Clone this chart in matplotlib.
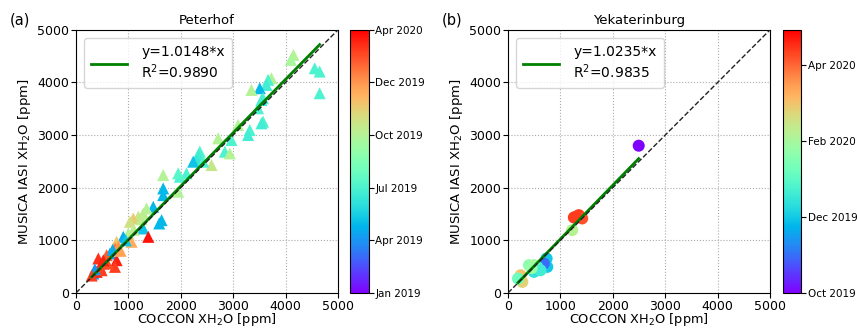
import numpy as np
import matplotlib.pyplot as plt
from matplotlib.colors import Normalize

# Peterhof: COCCON vs MUSICA IASI XH2O, colour = position on the date axis
pet_x = [4150, 4100, 4555, 4650, 4650, 3730, 3666, 3634, 3507, 3348, 3570, 3539,
         3475, 3570, 3539, 3316, 3284, 3094, 2967, 2713, 2840, 2935, 2586, 2363,
         2332, 2300, 2236, 2427, 2109, 1982, 1950, 1950, 1664, 1664, 1664, 1633,
         1588, 1474, 1347, 1283, 1188, 1093, 1029, 1283, 1379, 997, 902, 1061,
         775, 743, 807, 648, 775, 743, 521, 426, 584, 330, 394, 457, 489, 360,
         600, 700, 950, 1100, 1250, 850, 520, 300]
pet_y = [4524, 4430, 4270, 4207, 3795, 4080, 4050, 3953, 3890, 3858, 3700, 3667,
         3509, 3255, 3223, 3096, 3001, 3192, 2906, 2938, 2684, 2652, 2430, 2684,
         2620, 2525, 2494, 2494, 2272, 2208, 2272, 1923, 2240, 1986, 1859, 1383,
         1320, 1637, 1605, 1510, 1447, 1415, 1352, 1225, 1066, 1130, 1066, 971,
         971, 844, 876, 749, 622, 495, 558, 654, 717, 368, 400, 495, 431, 450,
         560, 820, 1000, 1200, 1400, 800, 620, 330]
pet_c = [3.0, 2.9, 2.0, 2.0, 2.0, 3.0, 2.0, 1.9, 1.3, 3.0, 2.0, 1.9,
         2.0, 2.0, 1.9, 2.0, 1.9, 3.0, 2.0, 3.0, 2.0, 3.0, 3.2, 2.0,
         1.9, 1.8, 1.4, 2.0, 2.0, 2.0, 2.1, 3.0, 3.0, 1.3, 1.3, 1.3,
         1.3, 1.3, 3.0, 3.1, 3.2, 3.5, 3.3, 1.4, 4.9, 3.0, 1.2, 3.8,
         3.6, 4.2, 4.0, 1.1, 4.8, 4.6, 4.7, 4.7, 4.4, 1.0, 4.8, 4.7, 4.6, 1.0,
         4.5, 1.2, 1.4, 3.1, 3.1, 3.9, 4.8, 4.6]

# Yekaterinburg
yek_x = [2494, 1256, 1352, 1415, 1300, 1225, 736, 749, 685, 495, 558, 400, 495,
         241, 273, 190, 620, 450]
yek_y = [2798, 1434, 1478, 1415, 1450, 1193, 654, 495, 558, 400, 495, 527, 527,
         336, 209, 273, 430, 470]
yek_c = [0.0, 3.2, 3.2, 3.1, 3.2, 2.1, 1.0, 1.0, 0.5, 1.2, 1.3, 1.8, 2.0,
         2.5, 2.4, 1.6, 1.3, 1.9]

pet_ticks = [0, 1, 2, 3, 4, 5]
pet_labels = ['Jan 2019', 'Apr 2019', 'Jul 2019', 'Oct 2019', 'Dec 2019', 'Apr 2020']
yek_ticks = [0, 1, 2, 3]
yek_labels = ['Oct 2019', 'Dec 2019', 'Feb 2020', 'Apr 2020']

panels = [
    ('Peterhof', '(a)', pet_x, pet_y, pet_c, '^', 1.0148, 0.9890, 5.0, pet_ticks, pet_labels),
    ('Yekaterinburg', '(b)', yek_x, yek_y, yek_c, 'o', 1.0235, 0.9835, 3.46, yek_ticks, yek_labels),
]

fig = plt.figure(figsize=(8.57, 3.28), dpi=100)
ax_pos = [[0.0887, 0.107, 0.3057, 0.802], [0.5928, 0.107, 0.3057, 0.802]]
cb_pos = [[0.4085, 0.107, 0.0215, 0.802], [0.9137, 0.107, 0.0215, 0.802]]

for i, (title, tag, x, y, c, mk, slope, r2, cmax, ticks, labels) in enumerate(panels):
    ax = fig.add_axes(ax_pos[i])
    x = np.array(x)
    y = np.array(y)
    sc = ax.scatter(x, y, c=c, cmap='rainbow', norm=Normalize(0, cmax),
                    marker=mk, s=75, edgecolors='none', zorder=3)
    xf = np.array([x.min(), x.max()])
    ax.plot(xf, slope * xf, color='green', lw=2, zorder=4,
            label='y=%.4f*x\nR$^2$=%.4f' % (slope, r2))
    ax.plot([0, 5000], [0, 5000], '--', color='#222222', lw=1, zorder=5)
    ax.set_xlim(0, 5000)
    ax.set_ylim(0, 5000)
    ax.set_xticks(range(0, 5001, 1000))
    ax.set_yticks(range(0, 5001, 1000))
    ax.tick_params(labelsize=9, pad=1.5)
    ax.grid(True, ls=':', color='#aaaaaa', lw=0.8)
    ax.set_title(title, fontsize=9.5, pad=4)
    ax.set_xlabel('COCCON XH$_2$O [ppm]', fontsize=9.3, labelpad=-1)
    ax.set_ylabel('MUSICA IASI XH$_2$O [ppm]', fontsize=9.5, labelpad=3)
    ax.legend(loc='upper left', fontsize=10, handlelength=2.6,
              borderaxespad=0.6, handletextpad=1.0, borderpad=0.5)
    fig.text(ax_pos[i][0] - 0.077, 0.925, tag, fontsize=10.5)

    cax = fig.add_axes(cb_pos[i])
    cb = fig.colorbar(sc, cax=cax)
    cb.set_ticks(ticks)
    cb.set_ticklabels(labels)
    cb.ax.tick_params(labelsize=7.5, pad=1.5)
    cb.outline.set_linewidth(0.8)

fig.savefig('out.png', dpi=100)
